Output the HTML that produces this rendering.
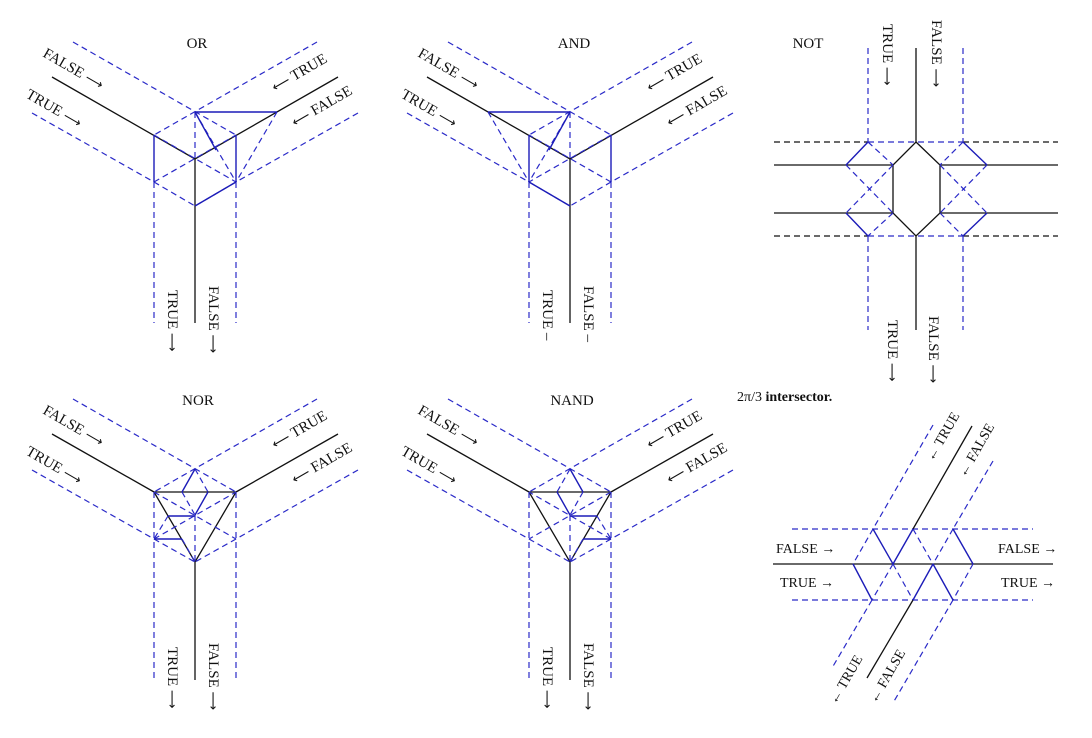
<!DOCTYPE html>
<html><head><meta charset="utf-8"><style>
html,body{margin:0;padding:0;background:#fff;}
svg{display:block;}
text{font-family:"Liberation Serif",serif;font-size:15px;fill:#111;}
.ar{font-family:"DejaVu Sans",sans-serif;font-size:13px;}
.k{stroke:#111;stroke-width:1.3;fill:none;}
.kd{stroke:#111;stroke-width:1.2;fill:none;stroke-dasharray:6 4;}
.b{stroke:#1c1cb8;stroke-width:1.4;fill:none;}
.bd{stroke:#2a2ac8;stroke-width:1.2;fill:none;stroke-dasharray:6 4;}
</style></head><body>
<svg width="1092" height="738" viewBox="0 0 1092 738" xmlns="http://www.w3.org/2000/svg">
<defs>
<g id="orShapes">
  <polyline class="k" points="52,77 195,159 338,77"/>
  <line class="k" x1="195" y1="159" x2="195" y2="323"/>
  <line class="bd" x1="73" y1="42" x2="236" y2="135"/>
  <line class="bd" x1="317" y1="42" x2="154" y2="135"/>
  <polyline class="bd" points="32,113 154,182 195,206"/>
  <polyline class="bd" points="358,113 236,182 195,206"/>
  <line class="bd" x1="154" y1="182" x2="154" y2="323"/>
  <line class="bd" x1="236" y1="182" x2="236" y2="323"/>
  <line class="bd" x1="154" y1="182" x2="236" y2="135"/>
  <line class="bd" x1="154" y1="135" x2="236" y2="182"/>
  <line class="bd" x1="195" y1="112" x2="195" y2="159"/>
  <line class="bd" x1="195" y1="112" x2="236" y2="182"/>
  <line class="bd" x1="277" y1="112" x2="236" y2="182"/>
  <line class="b" x1="154" y1="135" x2="154" y2="182"/>
  <line class="b" x1="236" y1="135" x2="236" y2="182"/>
  <line class="b" x1="236" y1="182" x2="195" y2="206"/>
  <line class="b" x1="195" y1="112" x2="277" y2="112"/>
  <line class="b" x1="195" y1="112" x2="216" y2="150"/>
</g>
<g id="norShapes">
  <line class="k" x1="52" y1="434" x2="154" y2="492"/>
  <line class="k" x1="338" y1="434" x2="236" y2="492"/>
  <polygon class="k" points="154,492 236,492 195,562"/>
  <line class="k" x1="195" y1="562" x2="195" y2="680"/>
  <line class="bd" x1="73" y1="399" x2="236" y2="492"/>
  <line class="bd" x1="317" y1="399" x2="154" y2="492"/>
  <polyline class="bd" points="32,470 154,539 195,562"/>
  <polyline class="bd" points="358,470 236,539 195,562"/>
  <line class="bd" x1="154" y1="492" x2="154" y2="680"/>
  <line class="bd" x1="236" y1="492" x2="236" y2="680"/>
  <line class="bd" x1="154" y1="539" x2="236" y2="492"/>
  <line class="bd" x1="154" y1="492" x2="236" y2="539"/>
  <line class="bd" x1="195" y1="515" x2="195" y2="562"/>
  <line class="bd" x1="195" y1="469" x2="208" y2="492"/>
  <line class="bd" x1="182" y1="492" x2="195" y2="515"/>
  <line class="bd" x1="168" y1="516" x2="154" y2="539"/>
  <line class="bd" x1="182" y1="539" x2="195" y2="562"/>
  <line class="b" x1="195" y1="469" x2="182" y2="492"/>
  <line class="b" x1="208" y1="492" x2="195" y2="515"/>
  <line class="b" x1="168" y1="516" x2="195" y2="516"/>
  <line class="b" x1="154" y1="539" x2="182" y2="539"/>
</g>
<g id="labs">
<text transform="translate(42,56) rotate(30)">FALSE <tspan class="ar">⟶</tspan></text>
<text transform="translate(25,97) rotate(30)">TRUE <tspan class="ar">⟶</tspan></text>
<text transform="translate(275,92) rotate(-30)"><tspan class="ar">⟵</tspan> TRUE</text>
<text transform="translate(295,127) rotate(-30)"><tspan class="ar">⟵</tspan> FALSE</text>
</g>
</defs>

<use href="#orShapes"/>
<use href="#orShapes" transform="translate(765,0) scale(-1,1)"/>
<use href="#norShapes"/>
<use href="#norShapes" transform="translate(765,0) scale(-1,1)"/>

<text x="197" y="48" text-anchor="middle">OR</text>
<text x="574" y="48" text-anchor="middle">AND</text>
<text x="198" y="405" text-anchor="middle">NOR</text>
<text x="572" y="405" text-anchor="middle">NAND</text>

<use href="#labs"/>
<use href="#labs" transform="translate(375,0)"/>
<use href="#labs" transform="translate(0,357)"/>
<use href="#labs" transform="translate(375,357)"/>

<text transform="translate(168,290) rotate(90)">TRUE <tspan class="ar">⟶</tspan></text>
<text transform="translate(209,286) rotate(90)">FALSE <tspan class="ar">⟶</tspan></text>
<text transform="translate(543,290) rotate(90)">TRUE –</text>
<text transform="translate(584,286) rotate(90)">FALSE –</text>
<text transform="translate(168,647) rotate(90)">TRUE <tspan class="ar">⟶</tspan></text>
<text transform="translate(209,643) rotate(90)">FALSE <tspan class="ar">⟶</tspan></text>
<text transform="translate(543,647) rotate(90)">TRUE <tspan class="ar">⟶</tspan></text>
<text transform="translate(584,643) rotate(90)">FALSE <tspan class="ar">⟶</tspan></text>

<!-- NOT -->
<text x="808" y="48" text-anchor="middle">NOT</text>
<line class="k" x1="916" y1="48" x2="916" y2="142"/>
<line class="k" x1="916" y1="236" x2="916" y2="330"/>
<polygon class="k" points="916,142 940,165 940,213 916,236 893,213 893,165"/>
<line class="k" x1="774" y1="165" x2="893" y2="165"/>
<line class="k" x1="774" y1="213" x2="893" y2="213"/>
<line class="k" x1="940" y1="165" x2="1058" y2="165"/>
<line class="k" x1="940" y1="213" x2="1058" y2="213"/>
<line class="kd" x1="774" y1="142" x2="868" y2="142"/>
<line class="bd" x1="868" y1="142" x2="963" y2="142"/>
<line class="kd" x1="963" y1="142" x2="1058" y2="142"/>
<line class="kd" x1="774" y1="236" x2="868" y2="236"/>
<line class="bd" x1="868" y1="236" x2="963" y2="236"/>
<line class="kd" x1="963" y1="236" x2="1058" y2="236"/>
<line class="bd" x1="868" y1="48" x2="868" y2="142"/>
<line class="bd" x1="963" y1="48" x2="963" y2="142"/>
<line class="bd" x1="868" y1="236" x2="868" y2="330"/>
<line class="bd" x1="963" y1="236" x2="963" y2="330"/>
<polyline class="b" points="868,142 846,165"/>
<polyline class="b" points="846,213 868,236"/>
<polyline class="bd" points="868,142 893,165"/>
<polyline class="bd" points="893,213 868,236"/>
<line class="bd" x1="846" y1="165" x2="893" y2="213"/>
<line class="bd" x1="893" y1="165" x2="846" y2="213"/>
<polyline class="b" points="963,142 987,165"/>
<polyline class="b" points="987,213 963,236"/>
<polyline class="bd" points="963,142 940,165"/>
<polyline class="bd" points="940,213 963,236"/>
<line class="bd" x1="940" y1="165" x2="987" y2="213"/>
<line class="bd" x1="987" y1="165" x2="940" y2="213"/>
<text transform="translate(883,24) rotate(90)">TRUE <tspan class="ar">⟶</tspan></text>
<text transform="translate(932,20) rotate(90)">FALSE <tspan class="ar">⟶</tspan></text>
<text transform="translate(888,320) rotate(90)">TRUE <tspan class="ar">⟶</tspan></text>
<text transform="translate(929,316) rotate(90)">FALSE <tspan class="ar">⟶</tspan></text>

<text x="737" y="401" style="font-size:14px"><tspan>2π/3 </tspan><tspan font-weight="bold">intersector.</tspan></text>

<!-- intersector -->
<line class="k" x1="773" y1="564" x2="1053" y2="564"/>
<line class="bd" x1="792" y1="529" x2="1033" y2="529"/>
<line class="bd" x1="792" y1="600" x2="1033" y2="600"/>
<line class="k" x1="972" y1="426" x2="913" y2="529"/>
<line class="k" x1="913" y1="600" x2="867" y2="678"/>
<line class="bd" x1="933" y1="425" x2="873" y2="529"/>
<line class="bd" x1="993" y1="461" x2="953" y2="529"/>
<line class="bd" x1="872" y1="600" x2="832" y2="668"/>
<line class="bd" x1="953" y1="600" x2="893" y2="703"/>
<line class="b" x1="873" y1="529" x2="893" y2="564"/>
<line class="b" x1="913" y1="529" x2="893" y2="564"/>
<line class="b" x1="853" y1="564" x2="872" y2="600"/>
<line class="b" x1="933" y1="564" x2="913" y2="600"/>
<line class="b" x1="933" y1="564" x2="953" y2="600"/>
<line class="b" x1="953" y1="529" x2="973" y2="564"/>
<line class="bd" x1="873" y1="529" x2="853" y2="564"/>
<line class="bd" x1="893" y1="564" x2="872" y2="600"/>
<line class="bd" x1="893" y1="564" x2="913" y2="600"/>
<line class="bd" x1="913" y1="529" x2="933" y2="564"/>
<line class="bd" x1="953" y1="529" x2="933" y2="564"/>
<line class="bd" x1="973" y1="564" x2="953" y2="600"/>
<text x="776" y="553" style="font-size:14px">FALSE →</text>
<text x="780" y="587" style="font-size:14px">TRUE →</text>
<text x="998" y="553" style="font-size:14px">FALSE →</text>
<text x="1001" y="587" style="font-size:14px">TRUE →</text>
<text transform="translate(933,462) rotate(-60)" style="font-size:14px">← TRUE</text>
<text transform="translate(965,478) rotate(-60)" style="font-size:14px">← FALSE</text>
<text transform="translate(836,705) rotate(-60)" style="font-size:14px">← TRUE</text>
<text transform="translate(876,704) rotate(-60)" style="font-size:14px">← FALSE</text>
</svg>
</body></html>
